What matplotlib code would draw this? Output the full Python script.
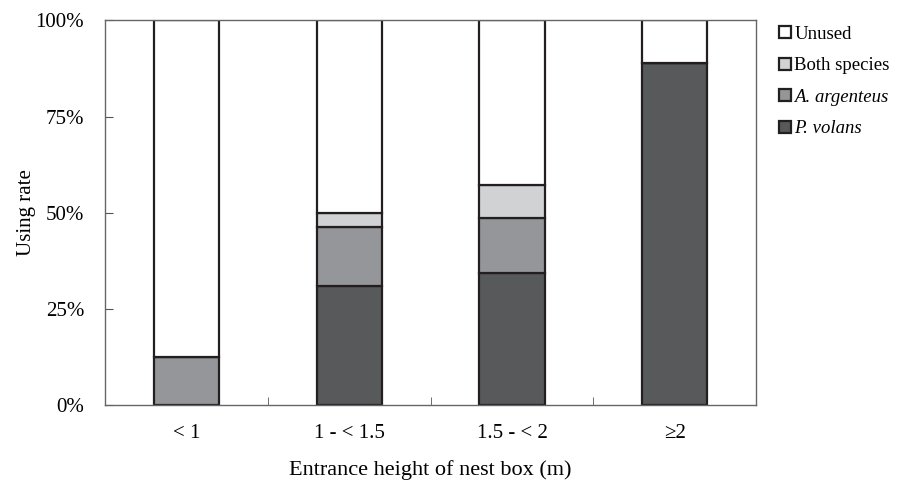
import matplotlib
matplotlib.use("Agg")
import matplotlib.pyplot as plt
import numpy as np

plt.rcParams['font.family'] = ['Liberation Serif', 'DejaVu Serif']

categories = ['< 1', '1 - < 1.5', '1.5 - < 2', '\u22652']
# stacked shares in percent, bottom to top
p_volans = [0.0, 30.8, 34.3, 88.9]
a_argenteus = [12.5, 15.4, 14.3, 0.0]
both_species = [0.0, 3.8, 8.6, 0.0]
unused = [87.5, 50.0, 42.8, 11.1]

series = [('P. volans', p_volans, '#58595b'),
          ('A. argenteus', a_argenteus, '#959699'),
          ('Both species', both_species, '#d1d2d4'),
          ('Unused', unused, '#ffffff')]

fig = plt.figure(figsize=(8.98, 4.86), dpi=100)
ax = fig.add_axes([0.117, 0.167, 0.725, 0.791])

x = np.arange(len(categories))
bottom = np.zeros(len(categories))
handles = []
for name, vals, col in series:
    vals = np.array(vals)
    b = ax.bar(x, vals, 0.4, bottom=bottom, color=col, edgecolor='#231f20', linewidth=1.6, label=name)
    handles.append(b)
    bottom += vals

ax.set_xlim(-0.5, len(categories) - 0.5)
ax.set_ylim(0, 100)
ax.set_yticks([0, 25, 50, 75, 100])
ax.set_yticklabels(['0%', '25%', '50%', '75%', '100%'], fontsize=15)
ax.set_xticks(x)
ax.set_xticklabels(categories, fontsize=15)
ax.tick_params(axis='x', length=0, pad=14)
ax.set_xticks(np.arange(0.5, len(categories) - 0.5), minor=True)
ax.tick_params(axis='x', which='minor', direction='in', length=6, color='#555555')
ax.tick_params(axis='y', direction='in', length=6, color='#555555', pad=15)
for s in ax.spines.values():
    s.set_color('#666666')
    s.set_linewidth(1.0)

ax.set_ylabel('Using rate', fontsize=15, labelpad=0)
ax.set_xlabel('Entrance height of nest box (m)', fontsize=16, labelpad=12)

# legend: top to bottom Unused ... P. volans
leg = fig.legend(handles[::-1], [s[0] for s in series[::-1]], loc='upper left',
                 bbox_to_anchor=(0.849, 0.982), frameon=False, fontsize=13.5,
                 handlelength=0.6, handleheight=0.6, handletextpad=0.2, labelspacing=0.78)
for t in leg.get_texts()[2:]:
    t.set_fontstyle('italic')

fig.savefig('out.png', dpi=100)
